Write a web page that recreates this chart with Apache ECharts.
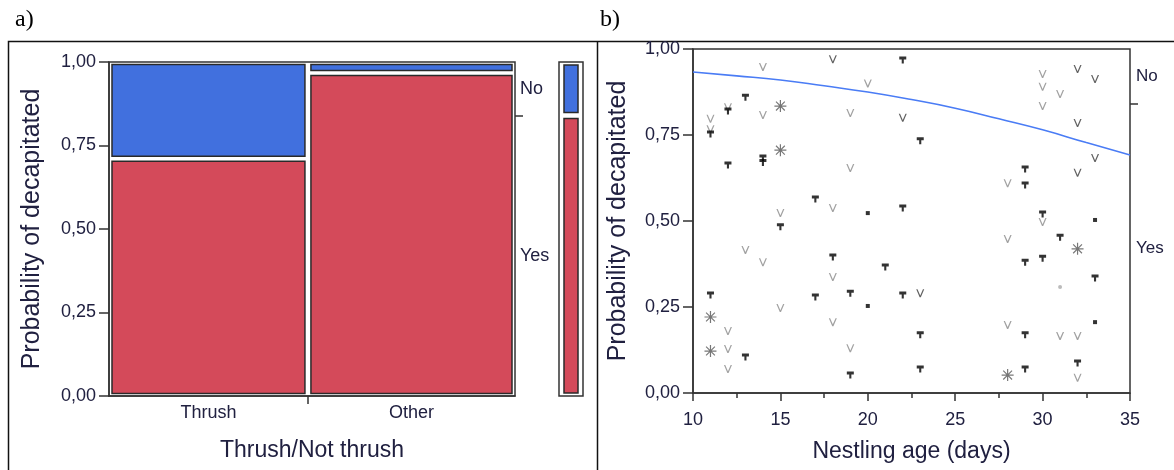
<!DOCTYPE html>
<html>
<head>
<meta charset="utf-8">
<script src="https://cdn.jsdelivr.net/npm/echarts@6/dist/echarts.min.js"></script>
<style>
  html, body { margin: 0; padding: 0; background: #fff; }
  #main { width: 1174px; height: 470px; }
</style>
</head>
<body>
<div id="main"></div>
<script>
// panel a: mosaic of decapitated by prey type
var mosaicCats = ['Thrush', 'Other'];
var mosaicWidth = [0.49, 0.51];
var yesShare = [0.71, 0.967];
var noShare = [0.29, 0.033];
var marginYes = 0.84;
var marginNo = 0.16;

// panel b: scatter of outcome vs nestling age (jittered), plus fitted curve
var vLight = [[11,0.797],[11,0.767],[12,0.831],[12,0.18],[12,0.128],[12,0.07],[13,0.416],[14,0.948],[14,0.808],[14,0.38],
    [15,0.523],[15,0.247],[18,0.538],[18,0.337],[18,0.206],[19,0.814],[19,0.654],[19,0.13],[20,0.90],[28,0.61],[28,0.448],
    [28,0.198],[30,0.927],[30,0.89],[30,0.834],[30,0.497],[31,0.869],[31,0.166],[32,0.166],[32,0.044]];
var vDark = [[18,0.97],[22,0.80],[23,0.29],[32,0.942],[32,0.785],[32,0.64],[33,0.913],[33,0.683]];
var tMarks = [[11,0.753],[11,0.285],[12,0.82],[12,0.663],[13,0.86],[13,0.105],[14,0.683],[14,0.67],[15,0.483],[17,0.564],
    [17,0.279],[18,0.395],[19,0.29],[19,0.052],[21,0.366],[22,0.968],[22,0.538],[22,0.285],[23,0.733],[23,0.169],[23,0.07],
    [29,0.651],[29,0.605],[29,0.38],[29,0.169],[29,0.07],[30,0.52],[30,0.392],[31,0.453],[32,0.087],[33,0.334]];
var stars = [[11,0.221],[11,0.122],[15,0.834],[15,0.706],[28,0.052],[32,0.419]];
var dots = [[20,0.523],[20,0.253],[33,0.503],[33,0.206]];
var grayDots = [[31,0.308]];
var fitAge = [10, 12.5, 15, 17.5, 20, 22.5, 25, 27.5, 30, 32.5, 35];
var fitProb = [0.933, 0.922, 0.910, 0.893, 0.875, 0.853, 0.828, 0.797, 0.765, 0.728, 0.692];

var txt = '#202040';
var fnt = '"Liberation Sans", Arial, sans-serif';
var blue = '#4170de';
var red = '#d44a5a';

function comma(v) {
    return v.toFixed(2).replace('.', ',');
}

// rectangles for mosaic: [x0, x1, y0, y1, colorIdx]
var mosaicRects = [];
var cum = 0;
var catCenters = [];
for (var i = 0; i < mosaicCats.length; i++) {
    mosaicRects.push([cum, cum + mosaicWidth[i], 0, yesShare[i], 0]);
    mosaicRects.push([cum, cum + mosaicWidth[i], yesShare[i], yesShare[i] + noShare[i], 1]);
    catCenters.push(cum + mosaicWidth[i] / 2);
    cum += mosaicWidth[i];
}
var marginRects = [[0, 1, 0, marginYes, 0], [0, 1, marginYes, marginYes + marginNo, 1]];

function rectRenderer(insetX, insetY) {
    return function (params, api) {
        var p0 = api.coord([api.value(0), api.value(3)]);
        var p1 = api.coord([api.value(1), api.value(2)]);
        return {
            type: 'rect',
            shape: {
                x: p0[0] + insetX,
                y: p0[1] + insetY,
                width: p1[0] - p0[0] - 2 * insetX,
                height: p1[1] - p0[1] - 2 * insetY
            },
            style: {fill: api.value(4) === 0 ? red : blue, stroke: '#2a2a2a', lineWidth: 1.5}
        };
    };
}

var vPath = 'path://M0,0 L1.3,0 L4,7 L6.7,0 L8,0 L4.6,9 L3.4,9 Z';
var tPath = 'path://M0,0 L8,0 L8,3 L5.2,3 L5.2,7 L2.8,7 L2.8,3 L0,3 Z';
var starPath = 'path://M0,5.4 L12,5.4 L12,6.6 L0,6.6 Z M5.4,0 L6.6,0 L6.6,12 L5.4,12 Z ' +
    'M1.2,2 L2,1.2 L10.8,10 L10,10.8 Z M10,1.2 L10.8,2 L2,10.8 L1.2,10 Z';

var axisLbl = {color: txt, fontFamily: fnt, fontSize: 18};
var yNameStyle = {color: txt, fontFamily: fnt, fontSize: 25};
var xNameStyle = {color: txt, fontFamily: fnt, fontSize: 23};
var tickStyle = {color: '#333', width: 1.5};

var chart = echarts.init(document.getElementById('main'));
var option = {
    backgroundColor: '#fff',
    animation: false,
    grid: [
        {left: 109, top: 62, width: 406, height: 334, show: true, borderColor: '#333', borderWidth: 1.5},
        {left: 559, top: 62, width: 24, height: 334, show: true, borderColor: '#333', borderWidth: 1.5},
        {left: 693, top: 49, width: 437, height: 344, show: true, borderColor: '#333', borderWidth: 1.5}
    ],
    xAxis: [
        {
            gridIndex: 0, type: 'value', min: 0, max: 1,
            axisLine: {lineStyle: tickStyle},
            axisTick: {length: 8, lineStyle: tickStyle, customValues: [mosaicWidth[0]]},
            axisLabel: {
                customValues: catCenters, margin: 8, color: txt, fontFamily: fnt, fontSize: 18,
                formatter: function (v) {
                    for (var k = 0; k < catCenters.length; k++) {
                        if (Math.abs(catCenters[k] - v) < 1e-6) return mosaicCats[k];
                    }
                    return '';
                }
            },
            splitLine: {show: false},
            name: 'Thrush/Not thrush', nameLocation: 'middle', nameGap: 43, nameTextStyle: xNameStyle
        },
        {gridIndex: 1, type: 'value', min: 0, max: 1, show: false},
        {
            gridIndex: 2, type: 'value', min: 10, max: 35, interval: 5,
            axisLine: {lineStyle: tickStyle},
            axisTick: {length: 8, lineStyle: tickStyle},
            minorTick: {show: true, splitNumber: 2, length: 5, lineStyle: tickStyle},
            axisLabel: {margin: 18, color: txt, fontFamily: fnt, fontSize: 18},
            splitLine: {show: false},
            name: 'Nestling age (days)', nameLocation: 'middle', nameGap: 47, nameTextStyle: xNameStyle
        }
    ],
    yAxis: [
        {
            gridIndex: 0, type: 'value', min: 0, max: 1, interval: 0.25,
            axisLine: {show: true, lineStyle: tickStyle},
            axisTick: {show: true, length: 10, lineStyle: tickStyle},
            axisLabel: Object.assign({margin: 13, formatter: comma}, axisLbl),
            splitLine: {show: false},
            name: 'Probability of decapitated', nameLocation: 'middle', nameGap: 64, nameRotate: 90,
            nameTextStyle: yNameStyle
        },
        {
            gridIndex: 0, type: 'value', min: 0, max: 1, position: 'right',
            axisLine: {show: false},
            axisTick: {show: true, length: 8, lineStyle: tickStyle, customValues: [marginYes]},
            axisLabel: {
                customValues: [marginYes + marginNo / 2, marginYes / 2], margin: 5,
                color: txt, fontFamily: fnt, fontSize: 18,
                formatter: function (v) { return v > marginYes ? 'No' : 'Yes'; }
            },
            splitLine: {show: false}
        },
        {gridIndex: 1, type: 'value', min: 0, max: 1, show: false},
        {
            gridIndex: 2, type: 'value', min: 0, max: 1, interval: 0.25,
            axisLine: {show: true, lineStyle: tickStyle},
            axisTick: {show: true, length: 10, lineStyle: tickStyle},
            axisLabel: Object.assign({margin: 13, formatter: comma}, axisLbl),
            splitLine: {show: false},
            name: 'Probability of decapitated', nameLocation: 'middle', nameGap: 62, nameRotate: 90,
            nameTextStyle: yNameStyle
        },
        {
            gridIndex: 2, type: 'value', min: 0, max: 1, position: 'right',
            axisLine: {show: false},
            axisTick: {show: true, length: 8, lineStyle: tickStyle, customValues: [marginYes]},
            axisLabel: {
                customValues: [marginYes + marginNo / 2, marginYes / 2], margin: 6,
                color: txt, fontFamily: fnt, fontSize: 17,
                formatter: function (v) { return v > marginYes ? 'No' : 'Yes'; }
            },
            splitLine: {show: false}
        }
    ],
    series: [
        {
            type: 'custom', xAxisIndex: 0, yAxisIndex: 0,
            renderItem: rectRenderer(3, 2.5),
            encode: {x: [0, 1], y: [2, 3]},
            data: mosaicRects
        },
        {
            type: 'custom', xAxisIndex: 1, yAxisIndex: 2,
            renderItem: rectRenderer(5, 3),
            encode: {x: [0, 1], y: [2, 3]},
            data: marginRects
        },
        {
            type: 'line', xAxisIndex: 2, yAxisIndex: 3, smooth: true, symbol: 'none',
            lineStyle: {color: '#4a7cf5', width: 1.6},
            data: fitAge.map(function (a, k) { return [a, fitProb[k]]; }),
            z: 1
        },
        {type: 'scatter', xAxisIndex: 2, yAxisIndex: 3, symbol: vPath, symbolSize: [8, 8],
            itemStyle: {color: '#8a8a8a'}, data: vLight},
        {type: 'scatter', xAxisIndex: 2, yAxisIndex: 3, symbol: vPath, symbolSize: [8, 8],
            itemStyle: {color: '#3a3a3a'}, data: vDark},
        {type: 'scatter', xAxisIndex: 2, yAxisIndex: 3, symbol: tPath, symbolSize: [7, 7],
            itemStyle: {color: '#000'}, data: tMarks},
        {type: 'scatter', xAxisIndex: 2, yAxisIndex: 3, symbol: starPath, symbolSize: [12, 12],
            itemStyle: {color: '#555'}, data: stars},
        {type: 'scatter', xAxisIndex: 2, yAxisIndex: 3, symbol: 'rect', symbolSize: 4,
            itemStyle: {color: '#000'}, data: dots},
        {type: 'scatter', xAxisIndex: 2, yAxisIndex: 3, symbol: 'circle', symbolSize: 4,
            itemStyle: {color: '#aaa'}, data: grayDots}
    ],
    graphic: [
        {type: 'rect', shape: {x: 8.5, y: 41.5, width: 1200, height: 500},
            style: {fill: null, stroke: '#111', lineWidth: 1.5}, silent: true},
        {type: 'line', shape: {x1: 597.5, y1: 41, x2: 597.5, y2: 470},
            style: {stroke: '#111', lineWidth: 1.5}, silent: true},
        {type: 'text', left: 15, top: 8,
            style: {text: 'a)', font: '24px "Liberation Serif", serif', fill: '#000'}},
        {type: 'text', left: 600, top: 8,
            style: {text: 'b)', font: '24px "Liberation Serif", serif', fill: '#000'}}
    ]
};
chart.setOption(option);
</script>
</body>
</html>
